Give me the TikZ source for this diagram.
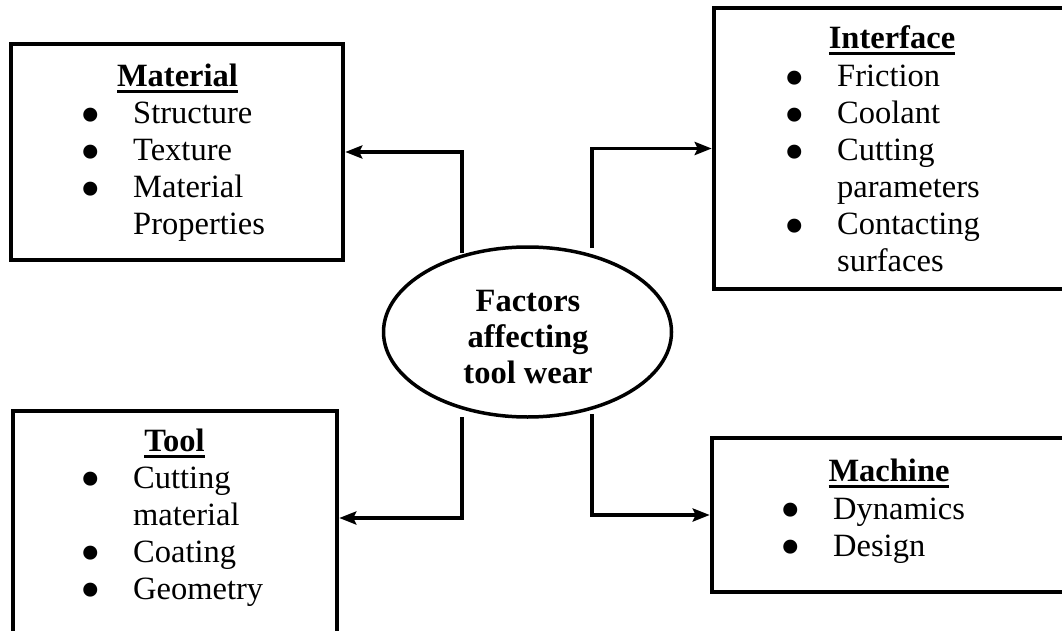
\documentclass[tikz,border=0pt]{standalone}
\usepackage{fontspec}
\setmainfont{Liberation Serif}
\usepackage{graphicx}
\usetikzlibrary{shapes.geometric,arrows.meta}
\newcommand{\ttl}[1]{\setbox0=\hbox{\bfseries #1}\rlap{\rule[-6.5pt]{\wd0}{3pt}}\box0}
\newcommand{\bul}{\makebox[53pt][l]{\smash{\raisebox{-10.5pt}{\scalebox{1.8}{\textbullet}}}}}
\newcommand{\ind}{\hspace*{53pt}}
\begin{document}
\begin{tikzpicture}[x=1pt,y=-1pt,
  box/.style={draw,rectangle,line width=4.5pt,inner sep=0pt},
  titlenode/.style={anchor=base,inner sep=0pt,font=\fontsize{32.5}{37}\selectfont},
  listnode/.style={anchor=base west,inner sep=0pt,font=\fontsize{32.5}{37}\selectfont},
  conn/.style={line width=3.5pt,-{Stealth[length=17pt,width=13pt,inset=3pt]}}]
\useasboundingbox (0,0) rectangle (1062,631);
\clip (0,0) rectangle (1062,631);
% boxes
\node[box,minimum width=332pt,minimum height=216pt] (mat) at (177,152) {};
\node[box,minimum width=366pt,minimum height=281pt] (int) at (897,148.5) {};
\node[box,minimum width=324pt,minimum height=240pt] (tool) at (175,531) {};
\node[box,minimum width=368pt,minimum height=154pt] (mac) at (896,515) {};
% centre
\node[ellipse,draw,line width=3.5pt,minimum width=288pt,minimum height=170pt,inner sep=0pt] (f) at (527.5,332) {};
\node[inner sep=0pt,align=center,font=\bfseries\fontsize{32.5}{36}\selectfont] (fT) at (528,337)
      {Factors\\affecting\\tool wear};
% titles
\node[titlenode] (matT) at (177.5,87) {\ttl{Material}};
\node[titlenode] (intT) at (892,49) {\ttl{Interface}};
\node[titlenode] (toolT) at (174.5,451) {\ttl{Tool}};
\node[titlenode] (macT) at (889,481) {\ttl{Machine}};
% lists
\node[listnode] (matL) at (80,124) {\begin{tabular}[t]{@{}l@{}}
\bul Structure\\ \bul Texture\\ \bul Material\\ \ind Properties\end{tabular}};
\node[listnode] (intL) at (784,87) {\begin{tabular}[t]{@{}l@{}}
\bul Friction\\ \bul Coolant\\ \bul Cutting\\ \ind parameters\\ \bul Contacting\\ \ind surfaces\end{tabular}};
\node[listnode] (toolL) at (80,488) {\begin{tabular}[t]{@{}l@{}}
\bul Cutting\\ \ind material\\ \bul Coating\\ \bul Geometry\end{tabular}};
\node[listnode] (macL) at (780,519) {\begin{tabular}[t]{@{}l@{}}
\bul Dynamics\\ \bul Design\end{tabular}};
% connectors
\coordinate (s1) at (462,253);
\coordinate (s2) at (592,248);
\coordinate (s3) at (462,417);
\coordinate (s4) at (592,414);
\draw[conn] (s1) |- (mat.east);
\draw[conn] (s2) |- (int.west);
\draw[conn] (s3) |- ([yshift=13pt]tool.east);
\draw[conn] (s4) |- (mac.west);
\end{tikzpicture}
\end{document}
